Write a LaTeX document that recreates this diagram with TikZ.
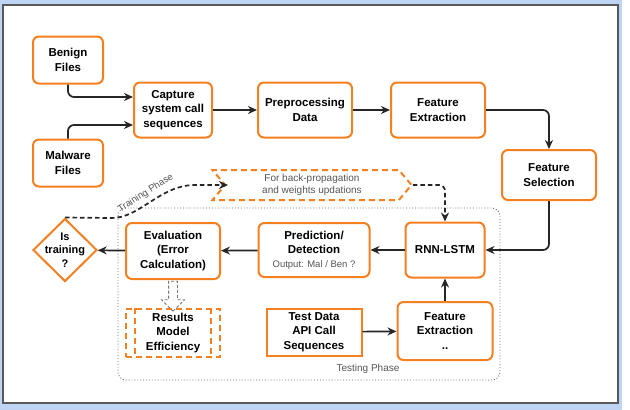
\documentclass[tikz,border=0pt]{standalone}
\usepackage{fontspec}
\setmainfont{Liberation Sans}
\usetikzlibrary{arrows.meta,shapes.geometric,shapes.symbols,shapes.arrows}
\definecolor{boxorange}{RGB}{244,128,32}
\definecolor{selblue}{RGB}{190,212,245}
\definecolor{txtgray}{RGB}{85,85,85}

\begin{document}
\begin{tikzpicture}[x=1pt, y=-1pt, % pixel grid, y pointing down
		stagebox/.style={draw=boxorange, line width=2pt, rounded corners=6pt, align=center,
			font=\fontsize{11.5}{14.5}\selectfont\bfseries, inner sep=0pt},
		decision/.style={diamond, draw=boxorange, line width=2pt, inner sep=0pt,
			minimum width=64pt, minimum height=63pt},
		flow/.style={-{Stealth[length=9pt,width=8pt]}, line width=1.7pt, black!85},
		backflow/.style={flow, dashed, dash pattern=on 4.5pt off 3pt},
		note/.style={text=txtgray, align=center, font=\fontsize{10}{12.5}\selectfont}]
		
		% frame of the canvas
		\fill[selblue] (0,0) rectangle (622,410);
		\filldraw[fill=white, draw=black!65, line width=1.5pt] (3,5) rectangle (618,403);
		\useasboundingbox (0,0) rectangle (630,410);
		
		% testing phase region
		\draw[black!60, dotted, line width=0.9pt, rounded corners=8pt] (118,208) rectangle (500,380);
		\node[note] (testLbl) at (368,369) {Testing Phase};
		
		% training pipeline
		\node[stagebox, minimum width=70pt, minimum height=47pt] (benign) at (68,60) {Benign\\Files};
		\node[stagebox, minimum width=70pt, minimum height=47pt] (malware) at (68,163) {Malware\\Files};
		\node[stagebox, minimum width=78pt, minimum height=55pt] (capture) at (173,110) {Capture\\system call\\sequences};
		\node[stagebox, minimum width=94pt, minimum height=55pt] (preproc) at (305,110) {Preprocessing\\Data};
		\node[stagebox, minimum width=94pt, minimum height=55pt] (featExt) at (438,110) {Feature\\Extraction};
		\node[stagebox, minimum width=94pt, minimum height=50pt] (featSel) at (549,175) {Feature\\Selection};
		
		% back-propagation note
		\node[signal, signal from=west, signal to=east, signal pointer angle=100, draw=boxorange,
			line width=2pt, dashed, dash pattern=on 6pt off 4pt, minimum width=199pt, minimum height=30pt,
			note] (backprop) at (312,185) {For back-propagation\\and weights updations};
		
		% testing pipeline
		\node[stagebox, minimum width=79pt, minimum height=55pt] (rnn) at (445,250) {RNN-LSTM};
		\node[stagebox, minimum width=111pt, minimum height=54pt] (predict) at (314,250)
			{Prediction/\\Detection\\[-1pt]{\mdseries\fontsize{9.5}{11}\selectfont\color{txtgray}Output: Mal / Ben ?}};
		\node[stagebox, minimum width=94pt, minimum height=56pt] (evaluate) at (173,251) {Evaluation\\(Error\\Calculation)};
		\node[decision, label={[align=center, font=\fontsize{11}{13.5}\selectfont\bfseries]center:Is\\training\\?}] (isTrain) at (65,250) {};
		\node[stagebox, rounded corners=0pt, minimum width=95pt, minimum height=47pt] (testData) at (314,332) {Test Data\\API Call\\Sequences};
		\node[stagebox, minimum width=95pt, minimum height=58pt] (featExt2) at (445,331) {Feature\\Extraction\\..};
		
		% results box with inner side bars
		\node[stagebox, rounded corners=0pt, dashed, dash pattern=on 6pt off 4pt, minimum width=94pt,
			minimum height=48pt] (results) at (173,333) {Results\\Model\\Efficiency};
		\draw[boxorange, line width=2pt, dashed, dash pattern=on 6pt off 4pt]
			([xshift=10pt]results.north west) -- ([xshift=10pt]results.south west)
			([xshift=-10pt]results.north east) -- ([xshift=-10pt]results.south east);
		
		% hollow arrow to the results
		\node[single arrow, shape border rotate=270, draw=black!55, densely dashed, line width=0.8pt,
			inner sep=4pt, single arrow head extend=7pt, minimum height=30pt] (toResults) at (173,294) {};
		
		% connectors
		\draw[flow, rounded corners=6pt] (benign.south) |- ([yshift=13pt]capture.west);
		\draw[flow, rounded corners=6pt] (malware.north) |- ([yshift=-15pt]capture.west);
		\draw[flow] (capture) -- (preproc);
		\draw[flow] (preproc) -- (featExt);
		\draw[flow, rounded corners=6pt] (featExt.east) -| (featSel.north);
		\draw[flow, rounded corners=6pt] (featSel.south) |- (rnn.east);
		\draw[flow] (rnn) -- (predict);
		\draw[flow] (predict) -- (evaluate);
		\draw[flow] (evaluate) -- (isTrain);
		\draw[flow] (testData) -- (featExt2);
		\draw[flow] (featExt2) -- (rnn);
		
		% feedback path of the training phase
		\draw[backflow] (isTrain.north) -- (112,218) .. controls (140,218) and (160,185) .. (195,185)
			node[pos=0.5, sloped, above=1pt, note, font=\fontsize{9.5}{11}\selectfont] (trainLbl) {Training Phase}
			-- (228,185);
		\draw[backflow, rounded corners=6pt] (backprop.east) -| (rnn.north);
	\end{tikzpicture}
\end{document}
